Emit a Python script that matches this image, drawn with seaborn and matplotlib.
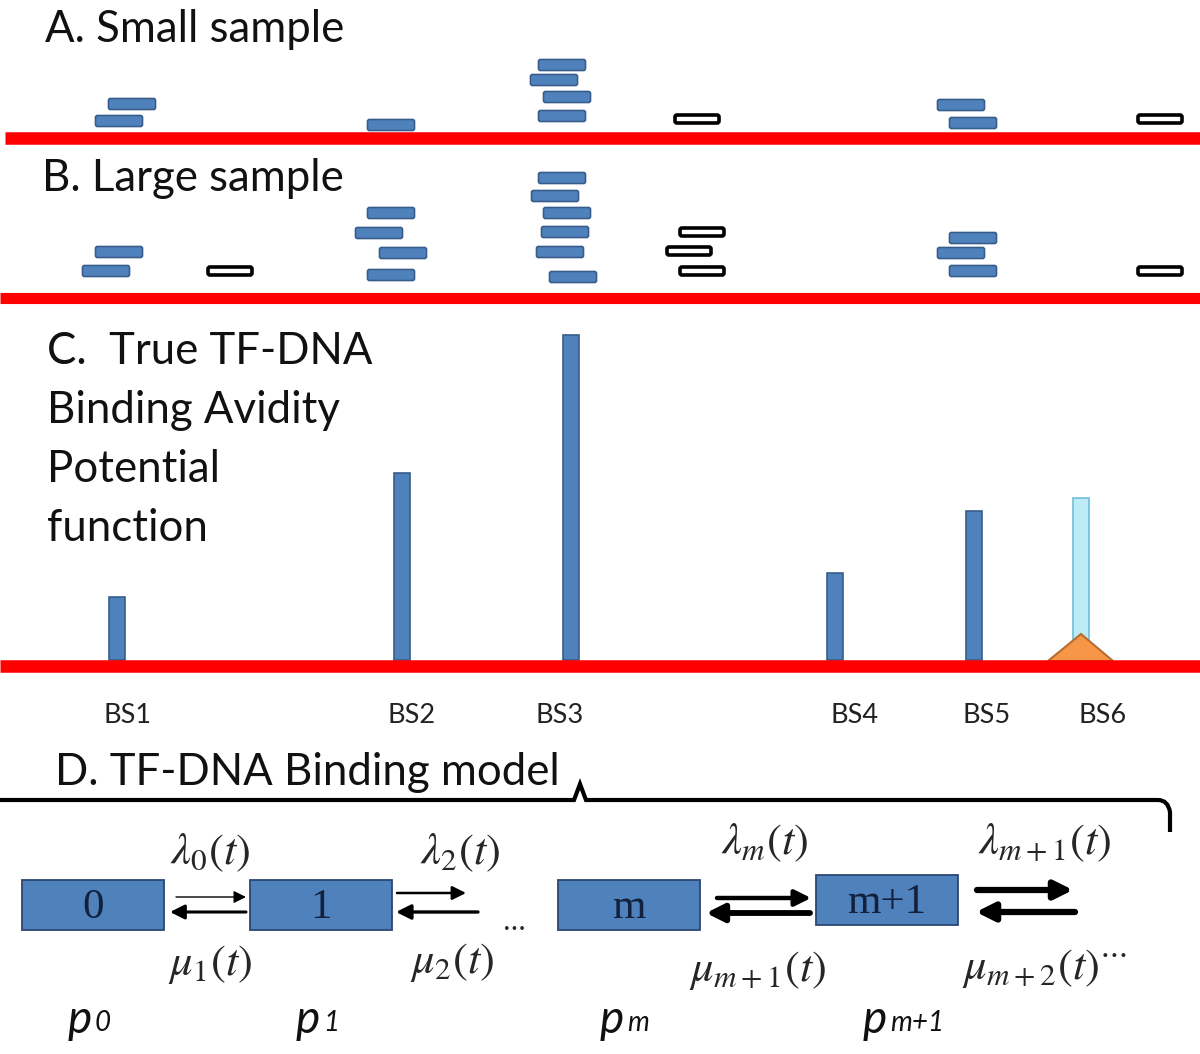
import numpy as np
import matplotlib.pyplot as plt
import seaborn as sns
from matplotlib.patches import FancyBboxPatch, Rectangle, Polygon
from matplotlib.path import Path
from matplotlib.patches import PathPatch

# ---- data (pixel units of the original diagram) ----
# panel A: sampled reads (centre x, level y)
a_read_x = [132, 119, 391, 562, 554, 567, 562, 961, 973]
a_read_y = [104, 121, 125, 65, 80, 97, 116, 105, 123]
a_open_x = [697, 1160]
a_open_y = [119, 119]

# panel B: sampled reads
b_read_x = [119, 106, 391, 379, 403, 391, 562, 555, 567, 565, 560, 573, 973, 961, 973]
b_read_y = [252, 271, 213, 233, 253, 275, 178, 196, 213, 232, 252, 277, 238, 253, 271]
b_open_x = [230, 702, 689, 702, 1160]
b_open_y = [271, 232, 251, 271, 271]

# panel C: binding sites and avidity
sites = ['BS1', 'BS2', 'BS3', 'BS4', 'BS5', 'BS6']
site_x = [117, 402, 571, 835, 974, 1081]
avidity = [63, 187, 325, 87, 149, 162]
label_x = [127, 412, 560, 855, 987, 1103]

BLUE = '#4F81BD'
BLUE_EDGE = '#385D8A'
RED = '#FF0000'

sns.set_theme(style="white")
plt.rcParams['font.family'] = ['Lato', 'DejaVu Sans']
plt.rcParams['mathtext.fontset'] = 'stix'

fig = plt.figure(figsize=(12, 10.54), dpi=100)
ax = fig.add_axes([0, 0, 1, 1])
ax.set_xlim(0, 1200)
ax.set_ylim(1054, 0)
ax.axis('off')


def read(x, y, open_=False):
    w, h = 44, 8
    if open_:
        p = FancyBboxPatch((x - w / 2, y - h / 2), w, h, boxstyle='round,pad=0,rounding_size=2',
                           fc='white', ec='black', lw=2.6, zorder=3)
    else:
        p = FancyBboxPatch((x - w / 2, y - h / 2), w, h, boxstyle='round,pad=1.5,rounding_size=2',
                           fc=BLUE, ec=BLUE_EDGE, lw=1.2, zorder=3)
    ax.add_patch(p)


TITLE = 31.5

# ---- panel A ----
ax.text(45, 42, 'A. Small sample', fontsize=TITLE, color='#111111')
for x, y in zip(a_read_x, a_read_y):
    read(x, y)
for x, y in zip(a_open_x, a_open_y):
    read(x, y, open_=True)
ax.plot([5, 1200], [138, 138], color=RED, lw=9, solid_capstyle='butt', zorder=2)

# ---- panel B ----
ax.text(42, 191, 'B. Large sample', fontsize=TITLE, color='#111111')
for x, y in zip(b_read_x, b_read_y):
    read(x, y)
for x, y in zip(b_open_x, b_open_y):
    read(x, y, open_=True)
ax.plot([0, 1200], [298, 298], color=RED, lw=8, solid_capstyle='butt', zorder=2)

# ---- panel C ----
c_lines = ['C.  True TF-DNA', 'Binding Avidity', 'Potential', 'function']
for i, t in enumerate(c_lines):
    ax.text(47, 364 + i * 59, t, fontsize=TITLE, color='#111111')

base = 660
for i, (x, v) in enumerate(zip(site_x, avidity)):
    if i == 5:
        ax.bar(x, -v, bottom=base, width=16, color='#BDEBF8', edgecolor='#6FBFD8', lw=1.2, zorder=2)
    else:
        ax.bar(x, -v, bottom=base, width=16, color=BLUE, edgecolor=BLUE_EDGE, lw=1.2, zorder=2)
ax.add_patch(Polygon([[1048, 661], [1081, 634], [1113, 661]], closed=True,
                     fc='#F79646', ec='#B66D31', lw=1.5, zorder=3))
ax.plot([0, 1200], [666, 666], color=RED, lw=9, solid_capstyle='butt', zorder=4)
for s, x in zip(sites, label_x):
    ax.text(x, 723, s, fontsize=19.5, ha='center', color='#222222')

# ---- panel D ----
ax.text(55, 785, 'D. TF-DNA Binding model', fontsize=TITLE, color='#111111')
verts = [(0, 800), (574, 800), (580, 784), (586, 800), (1158, 800),
         (1168, 800), (1170, 812), (1170, 832)]
codes = [Path.MOVETO, Path.LINETO, Path.LINETO, Path.LINETO, Path.LINETO,
         Path.CURVE3, Path.CURVE3, Path.LINETO]
ax.add_patch(PathPatch(Path(verts, codes), fc='none', ec='black', lw=3, capstyle='butt'))

boxes = [('0', 22, 880), ('1', 250, 880), ('m', 558, 880), ('m+1', 816, 875)]
for t, x0, y0 in boxes:
    ax.add_patch(Rectangle((x0, y0), 142, 50, fc=BLUE, ec='#2C4770', lw=1.3, zorder=3))
    ax.text(x0 + 71, y0 + 28, t, fontsize=31, ha='center', va='center',
            family='Liberation Serif', color='#14213D', zorder=4)


def arrow(x1, x2, y, lw):
    ax.annotate('', xy=(x2, y), xytext=(x1, y),
                arrowprops=dict(arrowstyle='-|>', color='black', lw=lw,
                                mutation_scale=16 + lw * 2.5, shrinkA=0, shrinkB=0))


arrow(176, 246, 897, 1.0)
arrow(246, 170, 912, 2.2)
arrow(397, 466, 893, 1.8)
arrow(478, 396, 912, 2.4)
arrow(717, 811, 898, 3.2)
arrow(810, 706, 913, 4.2)
arrow(977, 1073, 890, 4.5)
arrow(1075, 976, 912, 4.5)
ax.text(514, 930, '...', fontsize=22, ha='center', family='Liberation Serif')

lam = [(210, 853, r'$\lambda_0(t)$'), (460, 853, r'$\lambda_2(t)$'),
       (765, 843, r'$\lambda_m(t)$'), (1045, 843, r'$\lambda_{m+1}(t)$')]
mu = [(210, 965, r'$\mu_1(t)$'), (452, 963, r'$\mu_2(t)$'),
      (758, 970, r'$\mu_{m+1}(t)$'), (1045, 968, r'$\mu_{m+2}(t)^{\cdots}$')]
for x, y, t in lam + mu:
    ax.text(x, y, t, fontsize=32, ha='center', va='center')

plabels = [(68, '0'), (296, '1'), (600, 'm'), (863, 'm+1')]
for x, sub in plabels:
    ax.text(x, 1033, 'p', fontsize=33, style='italic', color='#111111')
    ax.text(x + 27, 1031, sub, fontsize=20, style='italic', color='#111111')

fig.savefig('out.png', dpi=100, facecolor='white')
